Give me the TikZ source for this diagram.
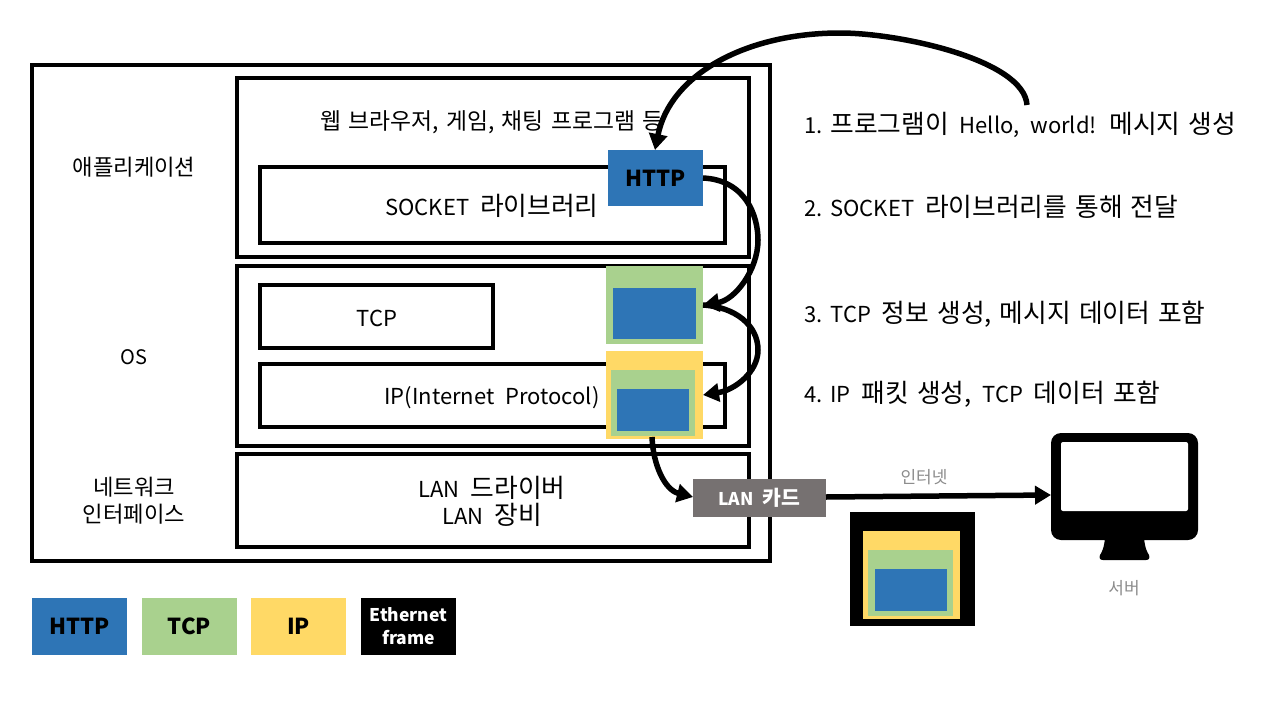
\documentclass[tikz,border=0pt]{standalone}
\usepackage{fontspec}
\setmainfont[WordSpace=2.2]{Noto Sans CJK KR}
\newfontfamily\krfont[Scale=1.17,WordSpace=1.4]{Noto Sans CJK KR}
\newcommand{\kr}[1]{{\krfont #1}}
\usetikzlibrary{arrows.meta}
\definecolor{httpblue}{HTML}{2E75B6}
\definecolor{tcpgreen}{HTML}{A9D18E}
\definecolor{ipyellow}{HTML}{FFD966}
\definecolor{langray}{HTML}{767171}
\definecolor{netgray}{HTML}{8C8C8C}
\tikzset{
  pic/.style={x=1pt,y=-1pt},
  layer/.style={draw=black,line width=4pt,inner sep=0pt},
  txt/.style={font=\fontsize{22}{27}\selectfont,align=center,inner sep=0pt},
  note/.style={font=\fontsize{22}{27}\selectfont,anchor=west,inner sep=0pt},
  side/.style={font=\fontsize{19}{27}\selectfont,align=center,inner sep=0pt},
  bold/.style={font=\fontsize{22}{26}\selectfont\bfseries,align=center,inner sep=0pt},
  small/.style={font=\fontsize{17}{20}\selectfont,text=netgray,inner sep=0pt},
  flow/.style={line width=5.5pt,-{Triangle[length=16pt,width=18pt]}},
}
% box from corner to corner, with a name
\newcommand{\layerbox}[3]{\draw[layer] #2 rectangle #3 node[coordinate] (#1) {};}
\newcommand{\fillbox}[4]{\fill[#2] #3 rectangle #4;
  \path #3 -- #4 node[midway,inner sep=0pt] (#1) {}
    coordinate[pos=0] (#1a) coordinate[pos=1] (#1b);}
\begin{document}
\begin{tikzpicture}[pic]
\useasboundingbox (0,0) rectangle (1280,720);
\fill[white] (0,0) rectangle (1280,720);
% stack
\layerbox{outer}{(32,65)}{(770,561)}
\layerbox{appbox}{(237,78)}{(749,257)}
\layerbox{socketbox}{(260,167)}{(725,243)}
\layerbox{osbox}{(237,266)}{(749,446)}
\layerbox{tcpbox}{(260,285)}{(493,348)}
\layerbox{ipbox}{(260,364)}{(725,427)}
\layerbox{netbox}{(237,454)}{(749,547)}
\node[side] (appl) at (134,167) {\kr{애플리케이션}};
\node[side,font=\fontsize{20}{27}\selectfont] (osl) at (134,357) {OS};
\node[side] (netl) at (134,501) {\kr{네트워크}\\\kr{인터페이스}};
\node[txt,font=\fontsize{19.5}{27}\selectfont] (appt) at (492,122) {\kr{웹 브라우저, 게임, 채팅 프로그램 등}};
\node[txt] (sockt) at (492,206) {SOCKET \kr{라이브러리}};
\node[txt] (tcpt) at (377,318) {TCP};
\node[txt] (ipt) at (492,398) {IP(Internet Protocol)};
\node[txt] (lant) at (492,501) {LAN \kr{드라이버}\\LAN \kr{장비}};
% packets
\fillbox{http}{httpblue}{(608,150)}{(703,206)}
\node[bold] at (http) {HTTP};
\fillbox{tcppkt}{tcpgreen}{(606,266)}{(703,344)}
\fillbox{tcpin}{httpblue}{(613,288)}{(696,339)}
\fillbox{ippkt}{ipyellow}{(606,351)}{(703,439)}
\fillbox{ipmid}{tcpgreen}{(611,370)}{(695,436)}
\fillbox{ipin}{httpblue}{(617,389)}{(689,431)}
\node[fill=langray,text=white,minimum width=133pt,minimum height=38pt,inner sep=0pt,
  font=\fontsize{17.5}{20}\selectfont\bfseries] (lan) at (759.5,498) {LAN \kr{카드}};
% frame on the wire
\fillbox{eth}{black}{(850,512)}{(975,626)}
\fillbox{ethip}{ipyellow}{(863,531)}{(960,619)}
\fillbox{ethtcp}{tcpgreen}{(868,550)}{(953,616)}
\fillbox{ethin}{httpblue}{(875,569)}{(947,611)}
% server
\fill[black] (1105,538) -- (1144,538) .. controls (1145,548) and (1147,552) .. (1149,555)
  .. controls (1150,558) and (1149,560) .. (1146,560) -- (1103,560)
  .. controls (1100,560) and (1099,558) .. (1100,555)
  .. controls (1102,552) and (1104,548) .. (1105,538) -- cycle;
\fill[black,rounded corners=10pt] (1051,433) rectangle (1198,540);
\fill[white,rounded corners=2pt] (1061,442) rectangle (1188,511);
\coordinate (server) at (1051,495);
\coordinate (msg) at (1027,105);
\coordinate (httpin) at (655,150);
\coordinate (httpout) at (703,178);
\coordinate (tcpside) at (703,305);
\coordinate (ipside) at (703,395);
\coordinate (ipout) at (652,437);
\coordinate (lanin) at (693,497);
\coordinate (lanout) at (826,497);
% steps
\draw[flow] (msg) .. controls (1024,60) and (900,33) .. (840,33)
  .. controls (745,33) and (670,75) .. (httpin);
\draw[flow] (httpout) .. controls (745,180) and (758,215) .. (758,240)
  .. controls (758,270) and (735,300) .. (tcpside);
\draw[flow] (tcpside) .. controls (735,307) and (758,325) .. (758,350)
  .. controls (758,372) and (735,390) .. (ipside);
\draw[flow] (ipout) .. controls (653,465) and (665,490) .. (lanin);
\draw[flow] (lanout) -- (server);
\node[note] (s1) at (804,125) {1.\hspace{8pt}\kr{프로그램이} Hello, world! \kr{메시지 생성}};
\node[note] (s2) at (804,207) {2.\hspace{8pt}SOCKET \kr{라이브러리를 통해 전달}};
\node[note] (s3) at (804,314) {3.\hspace{8pt}TCP \kr{정보 생성, 메시지 데이터 포함}};
\node[note] (s4) at (804,394) {4.\hspace{8pt}IP \kr{패킷 생성,} TCP \kr{데이터 포함}};
\node[small] (inet) at (924,477) {인터넷};
\node[small] (srv) at (1124,588) {서버};
% legend
\fillbox{lghttp}{httpblue}{(32,598)}{(127,655)}
\fillbox{lgtcp}{tcpgreen}{(142,598)}{(237,655)}
\fillbox{lgip}{ipyellow}{(251,598)}{(346,655)}
\fillbox{lgeth}{black}{(361,598)}{(456,655)}
\node[bold] at (lghttp) {HTTP};
\node[bold] at (lgtcp) {TCP};
\node[bold] at (lgip) {IP};
\node[font=\fontsize{17.5}{23}\selectfont\bfseries,text=white,align=center,inner sep=0pt] at (lgeth) {Ethernet\\frame};
\end{tikzpicture}
\end{document}
